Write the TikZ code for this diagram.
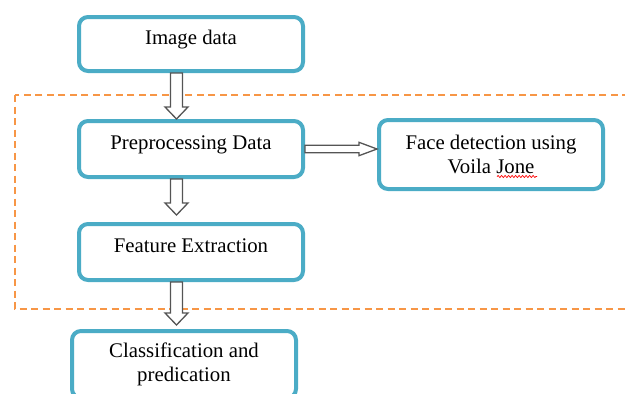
\documentclass[tikz,border=0pt]{standalone}
\usepackage{fontspec}
\setmainfont{Liberation Serif}
\usetikzlibrary{calc,decorations.pathmorphing}
\definecolor{boxblue}{RGB}{75,172,198}
\definecolor{frameorange}{RGB}{247,150,70}
\definecolor{arrowgray}{RGB}{85,85,85}
\tikzset{
  stage/.style={draw=boxblue, line width=4pt, rounded corners=9pt, fill=white,
    minimum width=224pt, outer sep=2pt, inner sep=0pt, align=center,
    font=\fontsize{20.8pt}{24pt}\selectfont},
  oneline/.style={text height=14pt, text depth=14pt},
  blk/.style={draw=arrowgray, line width=1.3pt, fill=white, line join=miter},
  dashframe/.style={draw=frameorange, line width=1.5pt, dash pattern=on 7pt off 4.5pt},
  squiggle/.style={draw=red, line width=0.7pt, decorate,
    decoration={snake, amplitude=1pt, segment length=3.5pt}}
}
% hollow block arrow pointing down: source, target, column, gap above target
\newcommand\downblock[4]{%
  \draw[blk] ($(#1.south -| #3)+(-6,0)$) -- ($(#2.north -| #3)+(-6,-12-#4)$)
    -- ($(#2.north -| #3)+(-11.5,-12-#4)$) -- ($(#2.north -| #3)+(0,-#4)$)
    -- ($(#2.north -| #3)+(11.5,-12-#4)$) -- ($(#2.north -| #3)+(6,-12-#4)$)
    -- ($(#1.south -| #3)+(6,0)$) -- cycle;}
\begin{document}
\begin{tikzpicture}[x=1pt,y=-1pt]
\useasboundingbox (0,0) rectangle (625,394);
\clip (0,0) rectangle (625,394);
% dashed region around the preprocessing stages
\draw[dashframe] (15,95) rectangle (660,309);
% stages
\node[stage, oneline, minimum height=54pt] (img) at (191,44) {Image data};
\node[stage, oneline, minimum height=56pt] (pre) at (191,149) {Preprocessing Data};
\node[stage, oneline, minimum height=56pt] (feat) at (191,252) {Feature Extraction};
\node[stage, minimum height=69pt] (face) at (491,154.5) {Face detection using\\Voila Jone};
\node[stage, minimum height=67pt] (cls) at (184,364.5) {Classification and\\predication};
% spell-check mark under "Jone"
\draw[squiggle] (497,176.5) -- (537,176.5);
% block arrows
\coordinate (col) at (176.5,0);
\downblock{img}{pre}{col}{0}
\downblock{pre}{feat}{col}{7}
\downblock{feat}{cls}{col}{4}
\coordinate (hy) at (face.west |- pre.east);
\draw[blk] ($(pre.east)+(0,-3.8)$) -- ($(hy)+(-18,-3.8)$) -- ($(hy)+(-18,-6.7)$)
  -- (hy) -- ($(hy)+(-18,6.7)$) -- ($(hy)+(-18,3.8)$) -- ($(pre.east)+(0,3.8)$) -- cycle;
\end{tikzpicture}
\end{document}
